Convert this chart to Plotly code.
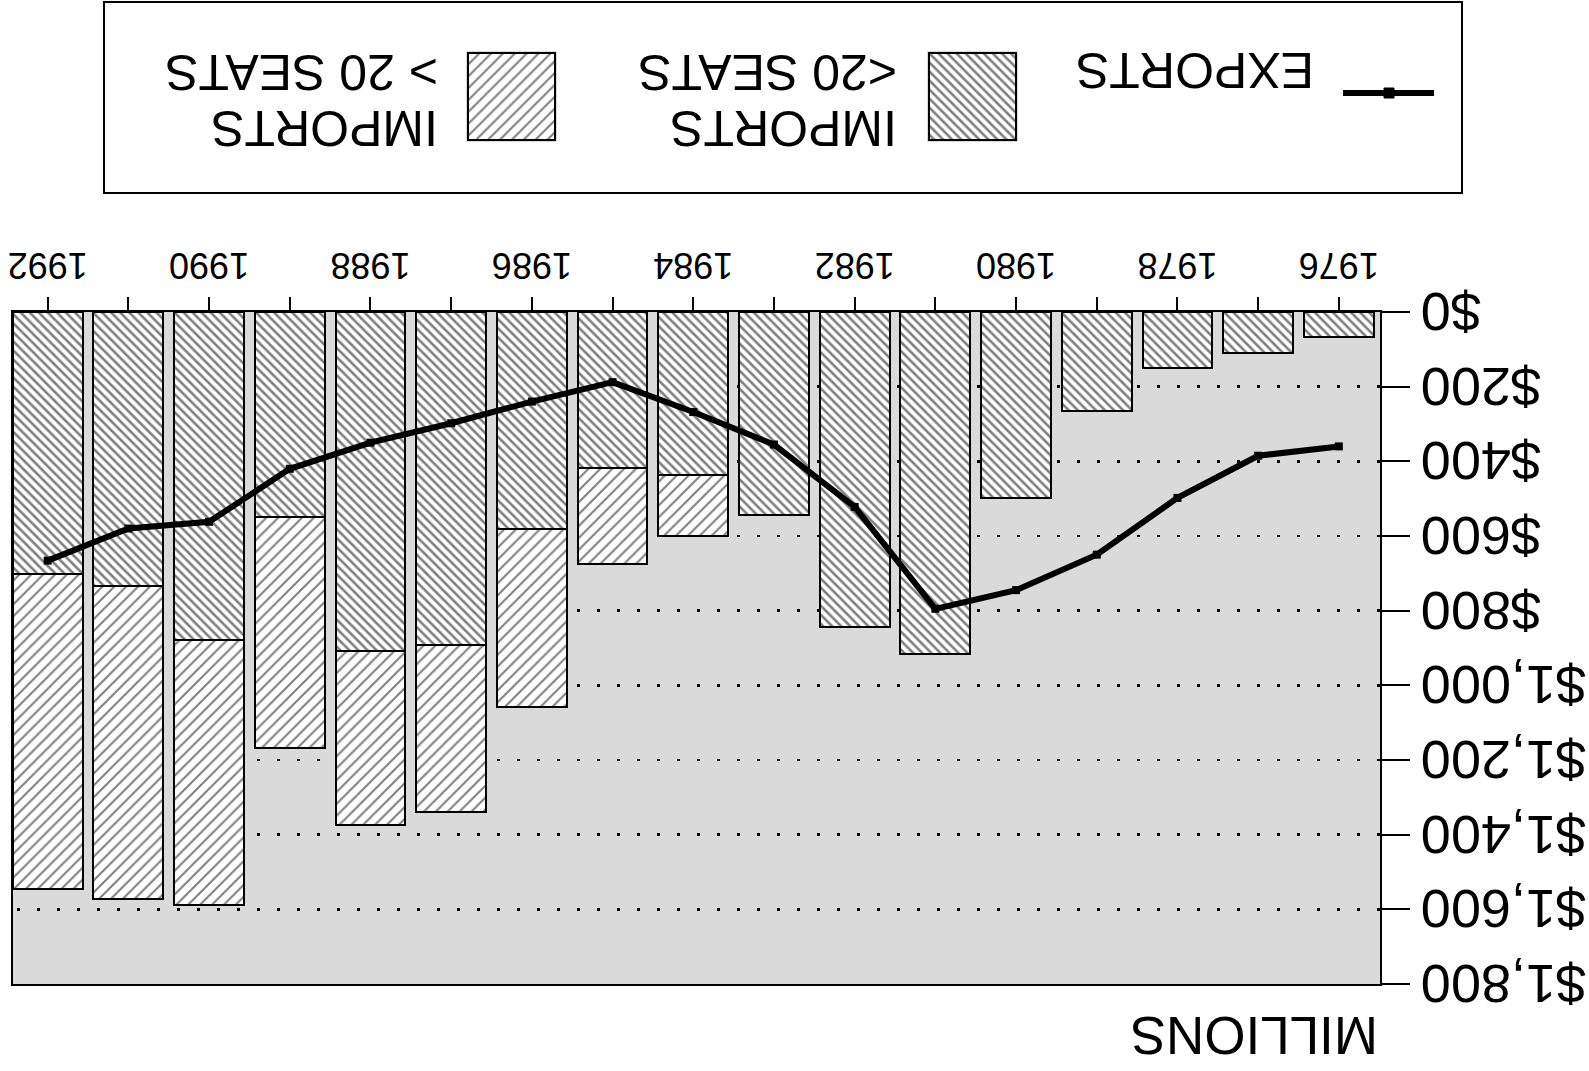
import plotly.graph_objects as go

# ---------------- data ----------------
years = list(range(1976, 1993))
imports_small = [68, 110, 149, 264, 498, 915, 845, 545, 437, 418, 580, 891, 909, 550, 879, 734, 703]   # IMPORTS <20 SEATS
imports_large = [None, None, None, None, None, None, None, None,
                 163, 256, 477, 449, 466, 618, 710, 839, 842]                                        # IMPORTS > 20 SEATS
exports = [360, 385, 498, 650, 745, 795, 522, 355, 268, 188, 240, 298, 350, 420, 562, 580, 666]
year_ticks = list(range(1976, 1993, 2))
money_ticks = list(range(0, 1801, 200))
legend_names = ["EXPORTS", "IMPORTS\n<20 SEATS", "IMPORTS\n> 20 SEATS"]
axis_title = "MILLIONS"

# ---------------- layout helpers ----------------
W, H = 1589, 1071
FONT = "Liberation Sans, Arial, Helvetica, sans-serif"


def fx(px):
    return px / W


def fy(py):
    return 1 - py / H


PAT_SMALL = dict(shape="\\", fgcolor="black", bgcolor="white", size=6.4, solidity=0.4, fillmode="overlay")
PAT_LARGE = dict(shape="/", fgcolor="black", bgcolor="white", size=8.4, solidity=0.24, fillmode="overlay")

fig = go.Figure()

fig.add_trace(go.Bar(x=years, y=imports_small, width=0.865, name=legend_names[1],
                     marker=dict(color="white", pattern=PAT_SMALL, line=dict(color="black", width=2))))
fig.add_trace(go.Bar(x=years, y=imports_large, width=0.865, name=legend_names[2],
                     marker=dict(color="white", pattern=PAT_LARGE, line=dict(color="black", width=2))))
fig.add_trace(go.Scatter(x=years, y=exports, mode="lines+markers", name=legend_names[0],
                         line=dict(color="black", width=6),
                         marker=dict(symbol="square", size=8, color="black")))

# legend swatches (patterned boxes) drawn on small helper axes
fig.add_trace(go.Bar(x=[0], y=[1], width=1, xaxis="x2", yaxis="y2", showlegend=False, hoverinfo="skip",
                     marker=dict(color="white", pattern=PAT_SMALL, line=dict(color="black", width=2))))
fig.add_trace(go.Bar(x=[0], y=[1], width=1, xaxis="x3", yaxis="y3", showlegend=False, hoverinfo="skip",
                     marker=dict(color="white", pattern=PAT_LARGE, line=dict(color="black", width=2))))

hidden = dict(visible=False, fixedrange=True, automargin=False)

fig.update_layout(
    width=W, height=H,
    margin=dict(l=0, r=0, t=0, b=0, pad=0, autoexpand=False),
    paper_bgcolor="white",
    plot_bgcolor="#dadada",
    barmode="stack",
    showlegend=False,
    font=dict(family=FONT, color="black"),
    xaxis=dict(
        domain=[fx(209), fx(1576)],
        range=[1975.49, 1992.43],
        automargin=False,
        tickmode="array", tickvals=year_ticks, ticktext=[str(y) for y in year_ticks],
        ticks="outside", ticklen=13, tickwidth=2, tickcolor="black",
        minor=dict(dtick=1, tick0=1976, ticks="outside", ticklen=13, tickwidth=2, tickcolor="black", showgrid=False),
        showgrid=False, zeroline=False,
        showline=True, linecolor="black", linewidth=2, mirror=True,
        tickfont=dict(size=36, family=FONT, color="black"),
        ticklabelstandoff=1,
    ),
    yaxis=dict(
        domain=[fy(759), fy(87)],
        range=[0, 1800],
        automargin=False,
        tickmode="array", tickvals=money_ticks,
        ticktext=["$" + format(v, ",d") for v in money_ticks],
        ticks="outside", ticklen=28, tickwidth=2, tickcolor="black",
        showgrid=True, gridcolor="black", gridwidth=2.5, griddash="3px,17px",
        zeroline=False,
        showline=True, linecolor="black", linewidth=2, mirror=True,
        tickfont=dict(size=54, family=FONT, color="black"),
        ticklabelstandoff=0,
    ),
    xaxis2=dict(domain=[fx(571), fx(662)], range=[-0.52, 0.52], anchor="y2", **hidden),
    yaxis2=dict(domain=[fy(1020), fy(929)], range=[-0.02, 1.02], anchor="x2", **hidden),
    xaxis3=dict(domain=[fx(1032), fx(1123)], range=[-0.52, 0.52], anchor="y3", **hidden),
    yaxis3=dict(domain=[fy(1020), fy(929)], range=[-0.02, 1.02], anchor="x3", **hidden),
)

shapes = [
    # legend frame
    dict(type="rect", xref="paper", yref="paper", x0=fx(127), x1=fx(1485), y0=fy(1069), y1=fy(878),
         line=dict(color="black", width=2), fillcolor="rgba(0,0,0,0)"),
    # exports legend line + marker
    dict(type="line", xref="paper", yref="paper", x0=fx(155), x1=fx(246), y0=fy(978), y1=fy(978),
         line=dict(color="black", width=6)),
    dict(type="rect", xref="paper", yref="paper", x0=fx(195), x1=fx(205), y0=fy(983), y1=fy(973),
         line=dict(color="black", width=1), fillcolor="black"),
]
fig.update_layout(shapes=shapes)

ann_font = dict(family=FONT, size=50, color="black")
small_lines = legend_names[1].split("\n")
large_lines = legend_names[2].split("\n")
annotations = [
    dict(text=legend_names[0], x=fx(273), y=fy(1001)),
    dict(text=small_lines[0], x=fx(690), y=fy(943)),
    dict(text=small_lines[1], x=fx(690), y=fy(999)),
    dict(text=large_lines[0], x=fx(1149), y=fy(943)),
    dict(text=large_lines[1], x=fx(1149), y=fy(999)),
]
for a in annotations:
    a.update(xref="paper", yref="paper", xanchor="left", yanchor="middle", showarrow=False, font=ann_font)
annotations.append(dict(text=axis_title, x=fx(209), y=fy(36), xref="paper", yref="paper",
                        xanchor="left", yanchor="middle", showarrow=False,
                        font=dict(family=FONT, size=53, color="black")))
fig.update_layout(annotations=annotations)

# the reference page is printed upside down: turn the whole chart by 180 degrees
post = """
document.documentElement.style.margin='0';
document.body.style.margin='0';
document.body.style.overflow='hidden';
var gd = document.getElementById('{plot_id}');
gd.style.transformOrigin = '50% 50%';
gd.style.transform = 'rotate(180deg)';
"""

fig.write_html("out.html", config={"displayModeBar": False, "staticPlot": True}, post_script=post)
